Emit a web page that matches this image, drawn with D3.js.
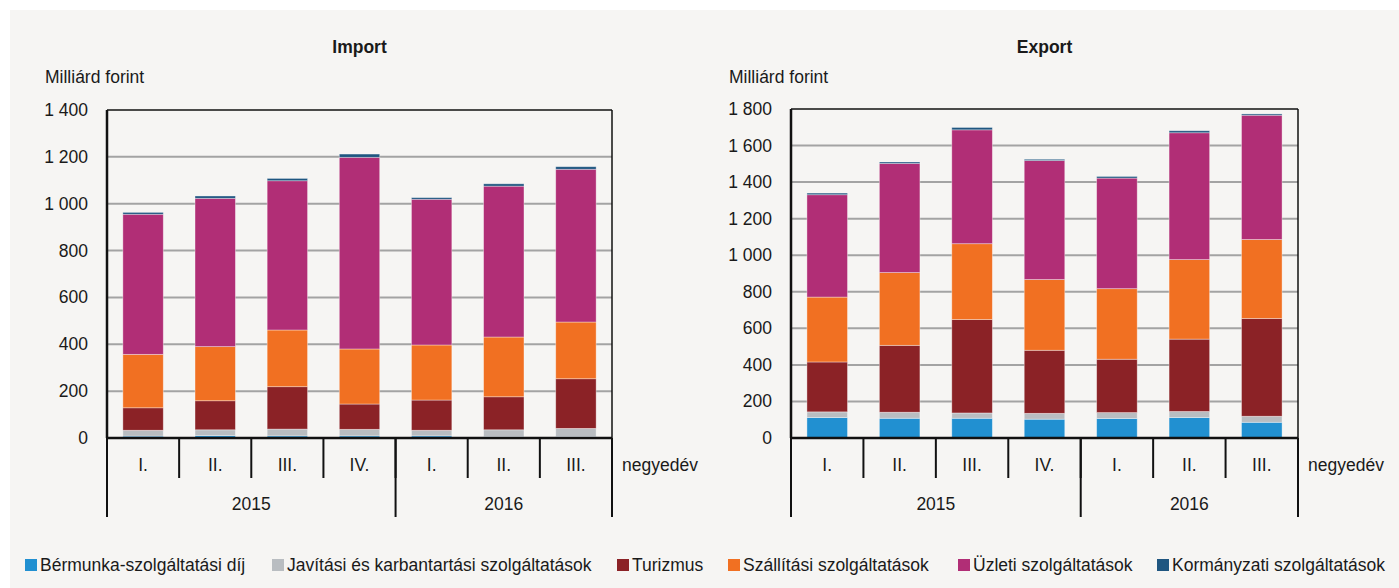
<!DOCTYPE html>
<html><head><meta charset="utf-8">
<script src="https://cdn.jsdelivr.net/npm/d3@7/dist/d3.min.js"></script>
<style>
html,body{margin:0;padding:0;background:#ffffff;}
svg{display:block;}
text{font-family:"Liberation Sans",Arial,sans-serif;fill:#1a1a1a;}
</style></head>
<body>
<svg id="chart" width="1399" height="588"></svg>
<script>
const quarters = ["I.","II.","III.","IV.","I.","II.","III."];
const years = ["2015","2015","2015","2015","2016","2016","2016"];
const seriesNames = ["Bérmunka-szolgáltatási díj","Javítási és karbantartási szolgáltatások","Turizmus","Szállítási szolgáltatások","Üzleti szolgáltatások","Kormányzati szolgáltatások"];
const seriesColors = ["#2190d1","#b9bdc1","#8b2226","#f17022","#b12e76","#1f5680"];

// Import (milliárd forint)
const impBermunka  = [8, 10, 9, 9, 9, 6, 6];
const impJavitasi  = [25, 25, 29, 28, 24, 29, 35];
const impTurizmus  = [96, 124, 181, 108, 129, 141, 212];
const impSzallitas = [228, 231, 242, 235, 235, 255, 242];
const impUzleti    = [598, 633, 637, 818, 622, 644, 652];
const impKormany   = [8, 10, 10, 14, 7, 10, 11];
const impTicks = [0,200,400,600,800,1000,1200,1400];

// Export (milliárd forint)
const expBermunka  = [112, 108, 108, 103, 107, 112, 86];
const expJavitasi  = [31, 33, 29, 32, 32, 33, 33];
const expTurizmus  = [273, 366, 511, 345, 292, 396, 535];
const expSzallitas = [355, 398, 415, 387, 386, 435, 432];
const expUzleti    = [560, 597, 623, 651, 605, 694, 680];
const expKormany   = [9, 8, 13, 7, 9, 11, 7];
const expTicks = [0,200,400,600,800,1000,1200,1400,1600,1800];

const svg = d3.select("#chart");
svg.append("rect").attr("x",10).attr("y",10).attr("width",1389).attr("height",578).attr("fill","#f6f5f3");

const fmt = v => d3.format(",")(v).replace(/,/g," ");

function panel(cfg){
  const {title, x0, x1, yTop, y0, max, ticks, data} = cfg;
  const idx = d3.range(quarters.length);
  const rows = idx.map(i => {
    const r = {i};
    seriesNames.forEach((s,k)=> r[s] = data[k][i]);
    return r;
  });
  const x = d3.scaleBand().domain(idx).range([x0,x1]).paddingInner(0.44).paddingOuter(0.22);
  const xb = d3.scaleBand().domain(idx).range([x0,x1]);
  const y = d3.scaleLinear().domain([0,max]).range([y0,yTop]);
  const g = svg.append("g");

  // gridlines
  g.append("g").selectAll("line").data(ticks.filter(t=>t>0 && t<max)).join("line")
    .attr("x1",x0).attr("x2",x1).attr("y1",d=>y(d)).attr("y2",d=>y(d))
    .attr("stroke","#a3a3a3").attr("stroke-width",2);

  // stacked bars
  const stack = d3.stack().keys(seriesNames)(rows);
  stack.forEach((layer,k)=>{
    g.append("g").selectAll("rect").data(layer).join("rect")
      .attr("x",d=>x(d.data.i)).attr("width",x.bandwidth())
      .attr("y",d=>y(d[1])).attr("height",d=>y(d[0])-y(d[1]))
      .attr("fill",seriesColors[k])
      .attr("stroke","rgba(255,255,255,0.45)").attr("stroke-width",0.8);
  });

  // frame
  g.append("line").attr("x1",x0).attr("x2",x1).attr("y1",y(max)).attr("y2",y(max)).attr("stroke","#111").attr("stroke-width",1.5);
  g.append("line").attr("x1",x1).attr("x2",x1).attr("y1",y(max)).attr("y2",y0).attr("stroke","#111").attr("stroke-width",1.5);
  g.append("line").attr("x1",x0).attr("x2",x0).attr("y1",y(max)).attr("y2",y0).attr("stroke","#111").attr("stroke-width",2.5);

  // y tick labels
  g.append("g").selectAll("text").data(ticks).join("text")
    .attr("x",x0-19).attr("y",d=>y(d)).attr("text-anchor","end").attr("dominant-baseline","central")
    .attr("font-size",17.5).text(fmt);

  // x axis: baseline and category ticks
  g.append("line").attr("x1",x0).attr("x2",x1).attr("y1",y0).attr("y2",y0).attr("stroke","#111").attr("stroke-width",2.5);
  const bounds = idx.map(i=>xb(i)).concat([x1]);
  g.append("g").selectAll("line").data(bounds).join("line")
    .attr("x1",d=>d).attr("x2",d=>d).attr("y1",y0).attr("y2",y0+40)
    .attr("stroke","#111").attr("stroke-width",2);
  g.append("g").selectAll("text").data(idx).join("text")
    .attr("x",i=>xb(i)+xb.bandwidth()/2).attr("y",y0+27).attr("text-anchor","middle").attr("dominant-baseline","central")
    .attr("font-size",17.5).text(i=>quarters[i]);
  g.append("text").attr("x",x1+10).attr("y",y0+27).attr("dominant-baseline","central").attr("font-size",17.5).text("negyedév");

  // year groups
  const groups = d3.groups(idx, i=>years[i]);
  const sep = [x0].concat(groups.map(([yr,ids])=>xb(ids[ids.length-1])+xb.bandwidth()));
  g.append("g").selectAll("line").data(sep).join("line")
    .attr("x1",d=>d).attr("x2",d=>d).attr("y1",y0).attr("y2",y0+79)
    .attr("stroke","#111").attr("stroke-width",2);
  g.append("g").selectAll("text").data(groups).join("text")
    .attr("x",([yr,ids])=>(xb(ids[0])+xb(ids[ids.length-1])+xb.bandwidth())/2)
    .attr("y",y0+66).attr("text-anchor","middle").attr("dominant-baseline","central")
    .attr("font-size",17.5).text(([yr])=>yr);

  // titles
  g.append("text").attr("x",(x0+x1)/2).attr("y",47).attr("text-anchor","middle").attr("dominant-baseline","central")
    .attr("font-size",17.5).attr("font-weight","bold").text(title);
  g.append("text").attr("x",x0-62).attr("y",77).attr("dominant-baseline","central")
    .attr("font-size",17.5).text("Milliárd forint");
}

panel({title:"Import", x0:107, x1:612, yTop:110, y0:438, max:1400, ticks:impTicks,
  data:[impBermunka,impJavitasi,impTurizmus,impSzallitas,impUzleti,impKormany]});
panel({title:"Export", x0:791, x1:1298, yTop:109, y0:438, max:1800, ticks:expTicks,
  data:[expBermunka,expJavitasi,expTurizmus,expSzallitas,expUzleti,expKormany]});

// legend
const legX = [25, 272, 617, 728, 958, 1157];
const leg = svg.append("g");
seriesNames.forEach((s,k)=>{
  leg.append("rect").attr("x",legX[k]).attr("y",559).attr("width",12).attr("height",12).attr("fill",seriesColors[k]);
  leg.append("text").attr("x",legX[k]+15).attr("y",565).attr("dominant-baseline","central").attr("font-size",17.5).text(s);
});
</script>
</body></html>
